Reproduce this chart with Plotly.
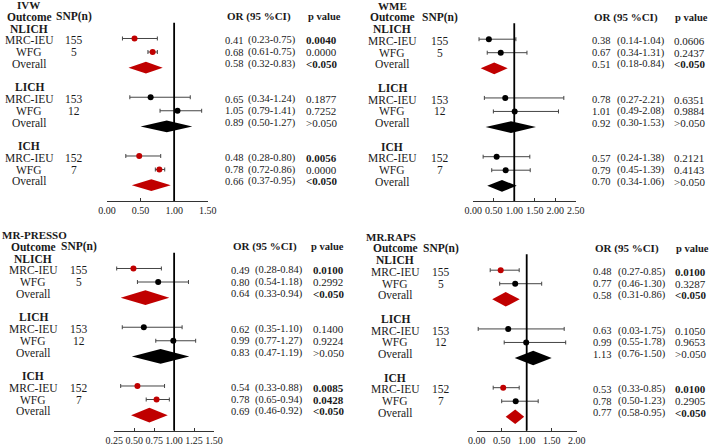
import plotly.graph_objects as go

W, H = 709, 446

methods = ["IVW", "WME", "MR-PRESSO", "MR.RAPS"]
outcomes = ["NLICH", "LICH", "ICH"]
sources = ["MRC-IEU", "WFG", "Overall"]
snps = [[155, 5], [153, 12], [152, 7]]

# per method: 9 values, order NLICH(MRC, WFG, Overall), LICH(...), ICH(...)
or_ivw = [0.41, 0.68, 0.58, 0.65, 1.05, 0.89, 0.48, 0.78, 0.66]
lo_ivw = [0.23, 0.61, 0.32, 0.34, 0.79, 0.50, 0.28, 0.72, 0.37]
hi_ivw = [0.75, 0.75, 0.83, 1.24, 1.41, 1.27, 0.80, 0.86, 0.95]
p_ivw = ["0.0040", "0.0000", "<0.050", "0.1877", "0.7252", ">0.050", "0.0056", "0.0000", "<0.050"]

or_wme = [0.38, 0.67, 0.51, 0.78, 1.01, 0.92, 0.57, 0.79, 0.70]
lo_wme = [0.14, 0.34, 0.18, 0.27, 0.49, 0.30, 0.24, 0.45, 0.34]
hi_wme = [1.04, 1.31, 0.84, 2.21, 2.08, 1.53, 1.38, 1.39, 1.06]
p_wme = ["0.0606", "0.2437", "<0.050", "0.6351", "0.9884", ">0.050", "0.2121", "0.4143", ">0.050"]

or_presso = [0.49, 0.80, 0.64, 0.62, 0.99, 0.83, 0.54, 0.78, 0.69]
lo_presso = [0.28, 0.54, 0.33, 0.35, 0.77, 0.47, 0.33, 0.65, 0.46]
hi_presso = [0.84, 1.18, 0.94, 1.10, 1.27, 1.19, 0.88, 0.94, 0.92]
p_presso = ["0.0100", "0.2992", "<0.050", "0.1400", "0.9224", ">0.050", "0.0085", "0.0428", "<0.050"]

or_raps = [0.48, 0.77, 0.58, 0.63, 0.99, 1.13, 0.53, 0.78, 0.77]
lo_raps = [0.27, 0.46, 0.31, 0.03, 0.55, 0.76, 0.33, 0.50, 0.58]
hi_raps = [0.85, 1.30, 0.86, 1.75, 1.78, 1.50, 0.85, 1.23, 0.95]
p_raps = ["0.0100", "0.3287", "<0.050", "0.1050", "0.9653", ">0.050", "0.0100", "0.2905", "<0.050"]

ticks_ivw = [0, 0.5, 1.0, 1.5]
ticks_wme = [0, 0.5, 1.0, 1.5, 2.0, 2.5]
ticks_presso = [0.25, 0.5, 0.75, 1.0, 1.25, 1.5]
ticks_raps = [0, 0.5, 1.0, 1.5, 2.0]

data = [
    (or_ivw, lo_ivw, hi_ivw, p_ivw, ticks_ivw),
    (or_wme, lo_wme, hi_wme, p_wme, ticks_wme),
    (or_presso, lo_presso, hi_presso, p_presso, ticks_presso),
    (or_raps, lo_raps, hi_raps, p_raps, ticks_raps),
]

# layout in pixels for each panel
panels = [
    dict(ax=(107, 207.7), row0=5, axis_y=201, lab=29, tit=28, snp=74, orx=223, cix=246, px=304, orh=225, ph=306, dh=0.5),
    dict(ax=(473.3, 575.7), row0=5.7, axis_y=201, lab=392, tit=392, snp=440, orx=590, cix=615, px=672, orh=592, ph=673, dh=0.5),
    dict(ax=(114.3, 214), row0=235, axis_y=430.7, lab=33, tit=34.5, snp=79, orx=228.7, cix=253, px=311, orh=231, ph=309, dh=0.62),
    dict(ax=(476.7, 576.7), row0=236.7, axis_y=430.7, lab=395, tit=391, snp=441, orx=591, cix=616, px=673, orh=593, ph=673.5, dh=0.62),
]
STEP = 11.75
RED = "#c00000"
FONT = "Liberation Serif, Times New Roman, serif"
TXT = "#1a1a1a"

fig = go.Figure()
annos = []
shapes = []


def sig(p):
    if p.startswith("<"):
        return True
    if p.startswith(">"):
        return False
    return float(p) < 0.05


for i, (vals, los, his, ps, tks) in enumerate(data):
    pn = panels[i]
    sfx = "" if i == 0 else str(i + 1)
    xr, yr = "x" + sfx, "y" + sfx
    top_py = max(0, pn["row0"] - 0.5 * STEP)
    rt = -(pn["row0"] - top_py) / STEP
    rb = (pn["axis_y"] - pn["row0"]) / STEP
    fig.layout["xaxis" + sfx] = dict(
        domain=[pn["ax"][0] / W, pn["ax"][1] / W], range=[tks[0], tks[-1]], anchor=yr,
        showgrid=False, zeroline=False, showline=True, linecolor="#333", linewidth=1,
        ticks="inside", ticklen=3, tickcolor="#333", tickvals=tks, tickangle=0,
        ticktext=["%.2f" % t for t in tks], tickfont=dict(family=FONT, size=10, color=TXT),
        automargin=False, fixedrange=True)
    fig.layout["yaxis" + sfx] = dict(
        domain=[1 - pn["axis_y"] / H, 1 - top_py / H], range=[rb, rt], anchor=xr,
        visible=False, automargin=False, fixedrange=True)

    def txt(x, r, s, bold=False, anchor="center", size=11.5):
        annos.append(dict(x=x / W, y=r, xref="paper", yref=yr, text="<b>%s</b>" % s if bold else s,
                          showarrow=False, xanchor=anchor, yanchor="middle",
                          font=dict(family=FONT, size=size, color=TXT)))

    txt(pn["tit"], 0, methods[i], bold=True, size=11)
    txt(pn["lab"], 1, "Outcome", bold=True)
    txt(pn["snp"], 1, "SNP(n)", bold=True)
    txt(pn["orh"], 1, "OR (95 %CI)", bold=True, anchor="left", size=11)
    txt(pn["ph"], 1, "p value", bold=True, anchor="left", size=10.5)

    px_, py_, pc, ex, exm = [], [], [], [], []
    for k, oc in enumerate(outcomes):
        ro = 2 + 5 * k
        txt(pn["lab"], ro, oc, bold=True)
        for j, src in enumerate(sources):
            idx = 3 * k + j
            r = ro + 1 + j
            txt(pn["lab"], r, src)
            if j < 2:
                txt(pn["snp"], r, str(snps[k][j]))
            txt(pn["orx"], r, "%.2f" % vals[idx], anchor="left", size=10.5)
            txt(pn["cix"], r, "(%.2f-%.2f)" % (los[idx], his[idx]), anchor="left", size=10.5)
            p = ps[idx]
            txt(pn["px"], r, p, bold=sig(p) and p != "0.0000", anchor="left", size=11)
            col = RED if sig(p) else "black"
            if j < 2:
                px_.append(vals[idx])
                py_.append(r + (-0.15 if j == 0 else 0))
                pc.append(col)
                ex.append(his[idx] - vals[idx])
                exm.append(vals[idx] - los[idx])
            else:
                rd = r + 0.33
                h = pn["dh"]
                fig.add_trace(go.Scatter(
                    x=[los[idx], vals[idx], his[idx], vals[idx], los[idx]],
                    y=[rd, rd - h, rd, rd + h, rd], xaxis=xr, yaxis=yr,
                    mode="lines", fill="toself", fillcolor=col, line=dict(width=0, color=col),
                    hoverinfo="skip", showlegend=False))
    fig.add_trace(go.Scatter(
        x=px_, y=py_, xaxis=xr, yaxis=yr, mode="markers",
        marker=dict(size=6, color=pc),
        error_x=dict(type="data", symmetric=False, array=ex, arrayminus=exm,
                     color="#444", thickness=1, width=2),
        hoverinfo="skip", showlegend=False, cliponaxis=False))
    shapes.append(dict(type="line", xref=xr, yref=yr, x0=1, x1=1, y0=1.5, y1=rb,
                       line=dict(color="black", width=1.8)))

fig.update_layout(width=W, height=H, margin=dict(l=0, r=0, t=0, b=0),
                  paper_bgcolor="white", plot_bgcolor="white",
                  annotations=annos, shapes=shapes, showlegend=False)
# page body has a default 8px margin; drop it so the figure fills the window
fig.write_html("out.html", config={"displayModeBar": False},
               post_script="document.body.style.margin='0';")
